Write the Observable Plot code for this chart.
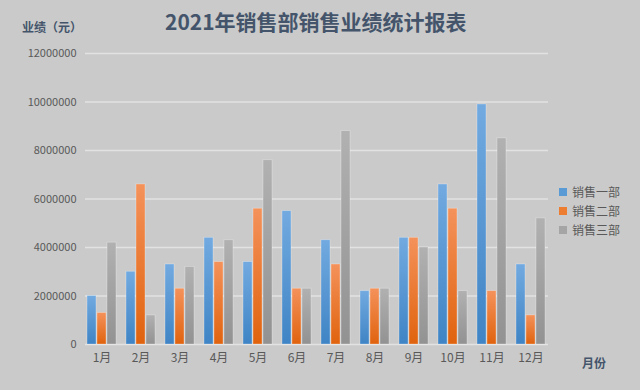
<!DOCTYPE html>
<html>
<head>
<meta charset="utf-8">
<script src="https://cdn.jsdelivr.net/npm/d3@7"></script>
<script src="https://cdn.jsdelivr.net/npm/@observablehq/plot@0.6"></script>
<style>
  html, body { margin: 0; padding: 0; background: #cacaca; }
  #wrap { position: relative; width: 640px; height: 390px; background: #cacaca; overflow: hidden;
          font-family: "Noto Sans CJK SC", "Noto Sans", sans-serif; }
  .layer { position: absolute; left: 0; top: 0; }
  .abs { position: absolute; white-space: nowrap; line-height: 1; }
  #title { left: 165px; top: 11px; font-size: 21px; font-weight: bold; color: #44546a; }
  #ylab { left: 22px; top: 21px; font-size: 12px; font-weight: bold; color: #44546a; }
  #xlab { left: 582px; top: 357px; font-size: 12px; font-weight: bold; color: #44546a; }
  .leg { left: 559px; font-size: 12px; color: #595959; display: flex; align-items: center; }
  .sw { width: 8px; height: 8px; margin-right: 5px; }
</style>
</head>
<body>
<div id="wrap">
  <div id="grid" class="layer"></div>
  <div id="chart" class="layer"></div>
  <div id="title" class="abs">2021年销售部销售业绩统计报表</div>
  <div id="ylab" class="abs">业绩（元）</div>
  <div id="xlab" class="abs">月份</div>
  <div id="legend"></div>
</div>
<script>
const months = ["1月","2月","3月","4月","5月","6月","7月","8月","9月","10月","11月","12月"];
const seriesNames = ["销售一部","销售二部","销售三部"];
const sales1 = [2000000, 3000000, 3300000, 4400000, 3400000, 5500000, 4300000, 2200000, 4400000, 6600000, 9900000, 3300000];
const sales2 = [1300000, 6600000, 2300000, 3400000, 5600000, 2300000, 3300000, 2300000, 4400000, 5600000, 2200000, 1200000];
const sales3 = [4200000, 1200000, 3200000, 4300000, 7600000, 2300000, 8800000, 2300000, 4000000, 2200000, 8500000, 5200000];
const yTicks = [0, 2000000, 4000000, 6000000, 8000000, 10000000, 12000000];
const swatchColors = ["#5b9bd5", "#ed7d31", "#a5a5a5"];

const allSeries = [sales1, sales2, sales3];
const data = months.flatMap((m, i) => seriesNames.map((s, j) => ({month: m, series: s, value: allSeries[j][i]})));

const common = {
  width: 640,
  height: 390,
  marginTop: 53,
  marginBottom: 46,
  marginLeft: 85,
  marginRight: 92,
  style: {background: "transparent", fontFamily: "'Noto Sans CJK SC', 'Noto Sans', sans-serif"},
  y: {domain: [0, 12000000], label: null}
};

// background layer: gridlines and y axis across the whole frame
const gridPlot = Plot.plot({
  ...common,
  marks: [
    Plot.gridY(yTicks, {stroke: "#e2e2e2", strokeOpacity: 1, strokeWidth: 1.5}),
    Plot.axisY(yTicks, {tickSize: 0, tickPadding: 9, tickFormat: d3.format("d"), fontSize: 11, fill: "#595959", label: null})
  ]
});
document.getElementById("grid").appendChild(gridPlot);

// bar layer
const plot = Plot.plot({
  ...common,
  fx: {domain: months, padding: 0.2, label: null},
  x: {domain: seriesNames, paddingInner: 0.13, paddingOuter: 0, axis: null},
  color: {type: "ordinal", domain: seriesNames, range: ["url(#g0)", "url(#g1)", "url(#g2)"]},
  marks: [
    Plot.axisY({ticks: [], label: null, tickSize: 0}),
    Plot.axisFx({anchor: "bottom", tickSize: 0, tickPadding: 9, fontSize: 12, fill: "#595959", label: null}),
    Plot.barY(data, {fx: "month", x: "series", y: "value", fill: "series", stroke: "#ffffff", strokeOpacity: 0.35, strokeWidth: 0.8})
  ]
});

const defs = `
<defs>
  <linearGradient id="g0" x1="0" y1="0" x2="0" y2="1"><stop offset="0" stop-color="#72aae0"/><stop offset="1" stop-color="#3f84c5"/></linearGradient>
  <linearGradient id="g1" x1="0" y1="0" x2="0" y2="1"><stop offset="0" stop-color="#f4925b"/><stop offset="1" stop-color="#e0630e"/></linearGradient>
  <linearGradient id="g2" x1="0" y1="0" x2="0" y2="1"><stop offset="0" stop-color="#b1b1b1"/><stop offset="1" stop-color="#929292"/></linearGradient>
</defs>`;
plot.insertAdjacentHTML("afterbegin", defs);
document.getElementById("chart").appendChild(plot);

const legend = document.getElementById("legend");
const legendTops = [186, 205, 224];
seriesNames.forEach((s, j) => {
  const row = document.createElement("div");
  row.className = "abs leg";
  row.style.top = legendTops[j] + "px";
  row.innerHTML = `<span class="sw" style="background:${swatchColors[j]}"></span><span>${s}</span>`;
  legend.appendChild(row);
});
</script>
</body>
</html>
